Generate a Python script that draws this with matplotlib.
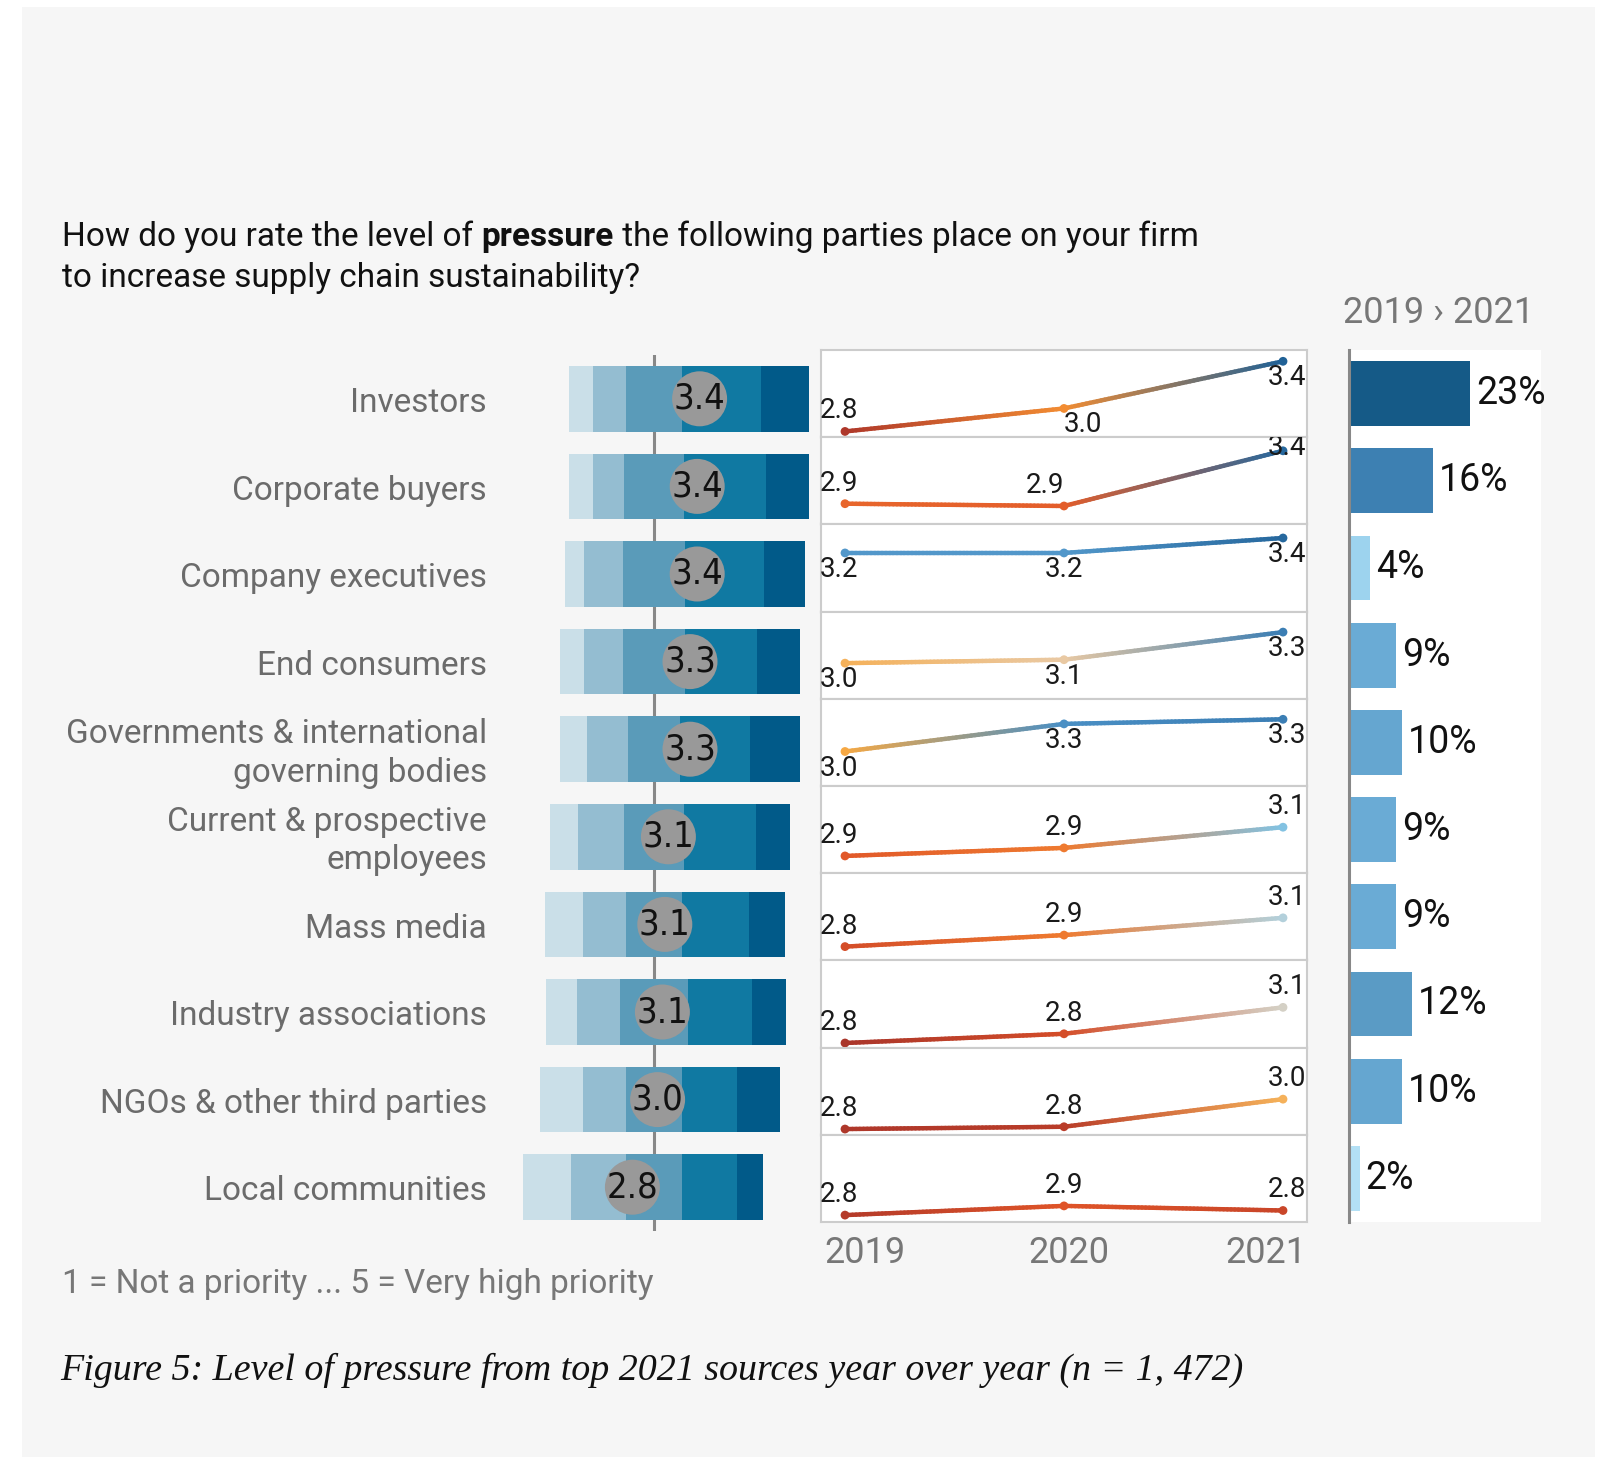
# Pressure on supply chain sustainability: rating mix, trend 2019-2021, change
import numpy as np
import matplotlib.pyplot as plt
from matplotlib import font_manager
from matplotlib.font_manager import FontProperties
from matplotlib.colors import LinearSegmentedColormap, Normalize, to_rgba
from matplotlib.collections import LineCollection
from matplotlib.patches import Rectangle

parties = ['Investors', 'Corporate buyers', 'Company executives', 'End consumers',
           'Governments & international\ngoverning bodies',
           'Current & prospective\nemployees', 'Mass media', 'Industry associations',
           'NGOs & other third parties', 'Local communities']

# share of answers per rating (1 = not a priority ... 5 = very high), %
rating_1 = [10, 10, 8, 10, 11, 12, 16, 13, 18, 20]
rating_2 = [14, 13, 16, 16, 17, 19, 18, 18, 18, 23]
rating_3 = [23, 25, 26, 26, 22, 25, 23, 28, 23, 23]
rating_4 = [33, 34, 33, 30, 29, 30, 28, 27, 23, 23]
rating_5 = [20, 18, 17, 18, 21, 14, 15, 14, 18, 11]

years = ['2019', '2020', '2021']
score_2019 = [2.77, 2.90, 3.23, 3.03, 3.02, 2.87, 2.84, 2.76, 2.77, 2.78]
score_2020 = [2.97, 2.88, 3.23, 3.06, 3.26, 2.94, 2.94, 2.84, 2.79, 2.86]
score_2021 = [3.38, 3.36, 3.36, 3.30, 3.30, 3.12, 3.09, 3.07, 3.03, 2.82]

change_pct = [23, 16, 4, 9, 10, 9, 9, 12, 10, 2]

# --- styling -------------------------------------------------------------
W, H, DPI = 1612, 1457, 100
SANS = 'Roboto'
SERIF = 'Liberation Serif'

# a narrow face for the score bubbles, if one is installed
narrow = [f for f in font_manager.fontManager.ttflist
          if f.stretch in ('condensed', 'semi-condensed')
          and f.style == 'normal' and f.weight in (400, 'normal', 'regular')]
if narrow:
    bubble_font = FontProperties(fname=narrow[0].fname, size=26)
else:
    bubble_font = FontProperties(family=SANS, size=21)

seg_colors = ['#cadfe8', '#94bdd1', '#5a9bb9', '#1079a2', '#015a89']

score_nodes = [2.75, 2.80, 2.86, 2.92, 2.98, 3.02, 3.05, 3.065, 3.075, 3.09,
               3.12, 3.20, 3.26, 3.32, 3.40]
score_cols = ['#a5332a', '#bf3f29', '#df5428', '#ec6f2e', '#f39233', '#f6a843',
              '#f2c184', '#e6ccaf', '#c9d3d3', '#b1d0dc', '#82c2e2', '#5ba1d1',
              '#4a8fc4', '#3476ad', '#1a5b90']
score_norm = Normalize(score_nodes[0], score_nodes[-1])
line_cmap = LinearSegmentedColormap.from_list(
    'score', [(score_norm(v), c) for v, c in zip(score_nodes, score_cols)])

pct_nodes = [0, 2, 4, 9, 12, 16, 23]
pct_cols = ['#c4e8f8', '#b3e0f5', '#9dd3ee', '#6aabd5', '#5a9bc5', '#3d80b2', '#155a87']
pct_norm = Normalize(0, 23)
bar_cmap = LinearSegmentedColormap.from_list(
    'pct', [(pct_norm(v), c) for v, c in zip(pct_nodes, pct_cols)])


def box(x0, y0, x1, y1):
    # pixel box (top-left origin) -> figure fraction
    return [x0 / W, 1 - y1 / H, (x1 - x0) / W, (y1 - y0) / H]


fig = plt.figure(figsize=(W / DPI, H / DPI), dpi=DPI)
fig.patch.set_facecolor('white')

ax_bg = fig.add_axes([0, 0, 1, 1], zorder=-10)
ax_bg.set_xlim(0, W)
ax_bg.set_ylim(H, 0)
ax_bg.axis('off')
ax_bg.add_patch(Rectangle((22, 7), 1573, H, color='#f6f6f6', lw=0))

# title, with "pressure" in bold
t1 = ax_bg.text(62, 246, 'How do you rate the level of ', family=SANS, fontsize=24,
                color='#111111', va='baseline')
t2 = ax_bg.annotate('pressure', xy=(1, 0), xycoords=t1, va='bottom', ha='left',
                    family=SANS, fontsize=24, fontweight='bold', color='#111111')
ax_bg.annotate(' the following parties place on your firm', xy=(1, 0), xycoords=t2,
               va='bottom', ha='left', family=SANS, fontsize=24, color='#111111')
ax_bg.text(62, 287, 'to increase supply chain sustainability?', family=SANS,
           fontsize=24, color='#111111', va='baseline')

ax_bg.text(62, 1284, '1 = Not a priority ... 5 = Very high priority', family=SANS,
           fontsize=24, color='#777777', va='center')
ax_bg.text(60, 1370, 'Figure 5: Level of pressure from top 2021 sources year over year (n = 1, 472)',
           family=SERIF, style='italic', fontsize=27.4, color='#111111', va='center')
ax_bg.text(1343, 313, '2019 \u203a 2021', family=SANS, fontsize=26, color='#777777',
           va='center')

n = len(parties)
rows = np.arange(n) + 0.5

# --- diverging rating bars -----------------------------------------------
ax_bar = fig.add_axes(box(500, 355, 830, 1231))
ax_bar.set_xlim((500 - 654) / 2.4, (830 - 654) / 2.4)
ax_bar.set_ylim(n, 0)
ax_bar.axis('off')
ax_bar.axvline(0, color='#888888', lw=2.2, zorder=0)

shares = np.array([rating_1, rating_2, rating_3, rating_4, rating_5], dtype=float)
left = -(shares[0] + shares[1] + shares[2] / 2)
for k in range(5):
    ax_bar.barh(rows, shares[k], left=left, height=0.75, color=seg_colors[k], zorder=1)
    left = left + shares[k]

# mean score marker: one score point = 50 percentage points
for i, s in enumerate(score_2021):
    ax_bar.scatter((s - 3) * 50, rows[i], s=(55 * 0.72) ** 2, color='#999999',
                   edgecolors='none', zorder=3)
    ax_bar.text((s - 3) * 50, rows[i], f'{s:.1f}', ha='center', va='center',
                fontproperties=bubble_font, color='#111111', zorder=4)

for i, label in enumerate(parties):
    ax_bar.annotate(label, xy=(0, rows[i]), xycoords=('axes fraction', 'data'),
                    xytext=(-9.4, -3), textcoords='offset points', ha='right',
                    va='center', family=SANS, fontsize=24, color='#6b6b6b',
                    linespacing=1.26, annotation_clip=False)

# --- yearly trend lines, one cell per party -------------------------------
# label above (a), below (b) or over the point (c)
place = ['abb', 'aac', 'bbb', 'bbb', 'bbb', 'aaa', 'aaa', 'aaa', 'aaa', 'aaa']
mid_ha = ['left', 'right'] + ['center'] * 8
x0, x1 = (821 - 845) / 219, (1307 - 845) / 219
y_lo = 2.72
row_h = 87.2
xs = np.arange(3)

for i in range(n):
    ax = fig.add_axes(box(821, 350 + i * row_h, 1307, 350 + (i + 1) * row_h))
    ax.set_xlim(x0, x1)
    ax.set_ylim(y_lo, y_lo + row_h / 115)
    ax.set_facecolor('white')
    ax.set_xticks([])
    ax.set_yticks([])
    for sp in ax.spines.values():
        sp.set_color('#cccccc')
        sp.set_linewidth(1.5)

    vals = [score_2019[i], score_2020[i], score_2021[i]]
    pt_cols = [np.array(to_rgba(line_cmap(score_norm(v)))) for v in vals]
    segs, cols = [], []
    for k in range(2):
        t = np.linspace(0, 1, 60)
        px = xs[k] + (xs[k + 1] - xs[k]) * t
        pv = vals[k] + (vals[k + 1] - vals[k]) * t
        pts = np.column_stack([px, pv])
        for m in range(len(t) - 1):
            segs.append(pts[m:m + 2])
            tm = (t[m] + t[m + 1]) / 2
            cols.append((1 - tm) * pt_cols[k] + tm * pt_cols[k + 1])
    ax.add_collection(LineCollection(segs, colors=cols, linewidths=3.2,
                                     capstyle='round', zorder=2))
    ax.scatter(xs, vals, s=40, color=pt_cols, edgecolors='none', zorder=3)

    # first label hugs the left border, last one the right border
    label_x = [x0 - 0.005, 1, x1 - 0.004]
    label_ha = ['left', mid_ha[i], 'right']
    for k, v in enumerate(vals):
        dy = {'a': 9.4, 'b': -17.3, 'c': -3.0}[place[i][k]]
        ax.annotate(f'{v:.1f}', xy=(label_x[k], v), xytext=(0, dy),
                    textcoords='offset points', ha=label_ha[k], va='baseline',
                    family=SANS, fontsize=20, color='#1a1a1a', zorder=4,
                    clip_on=True, annotation_clip=False)

    if i == n - 1:
        year_x = [x0 + 0.015, 1.02, x1 - 0.004]
        year_ha = ['left', 'center', 'right']
        for k, yr in enumerate(years):
            ax.annotate(yr, xy=(year_x[k], 0), xycoords=('data', 'axes fraction'),
                        xytext=(0, -22.5), textcoords='offset points', ha=year_ha[k],
                        va='center', family=SANS, fontsize=26, color='#777777',
                        annotation_clip=False)

# --- change 2019 -> 2021 --------------------------------------------------
ax_r = fig.add_axes(box(1349, 350, 1541, 1222))
ax_r.set_facecolor('white')
ax_r.set_xlim(0, 192 / 5.26)
ax_r.set_ylim(n, 0)
ax_r.set_xticks([])
ax_r.set_yticks([])
for side in ['top', 'right', 'bottom']:
    ax_r.spines[side].set_visible(False)
ax_r.spines['left'].set_color('#888888')
ax_r.spines['left'].set_linewidth(2.2)
ax_r.barh(rows, change_pct, height=0.745,
          color=[bar_cmap(pct_norm(p)) for p in change_pct])
for i, p in enumerate(change_pct):
    ax_r.annotate(f'{p}%', xy=(p, rows[i]), xytext=(4.3, 0), textcoords='offset points',
                  va='center', ha='left', family=SANS, fontsize=27, color='#111111',
                  annotation_clip=False)

plt.savefig('out.png', dpi=DPI)
